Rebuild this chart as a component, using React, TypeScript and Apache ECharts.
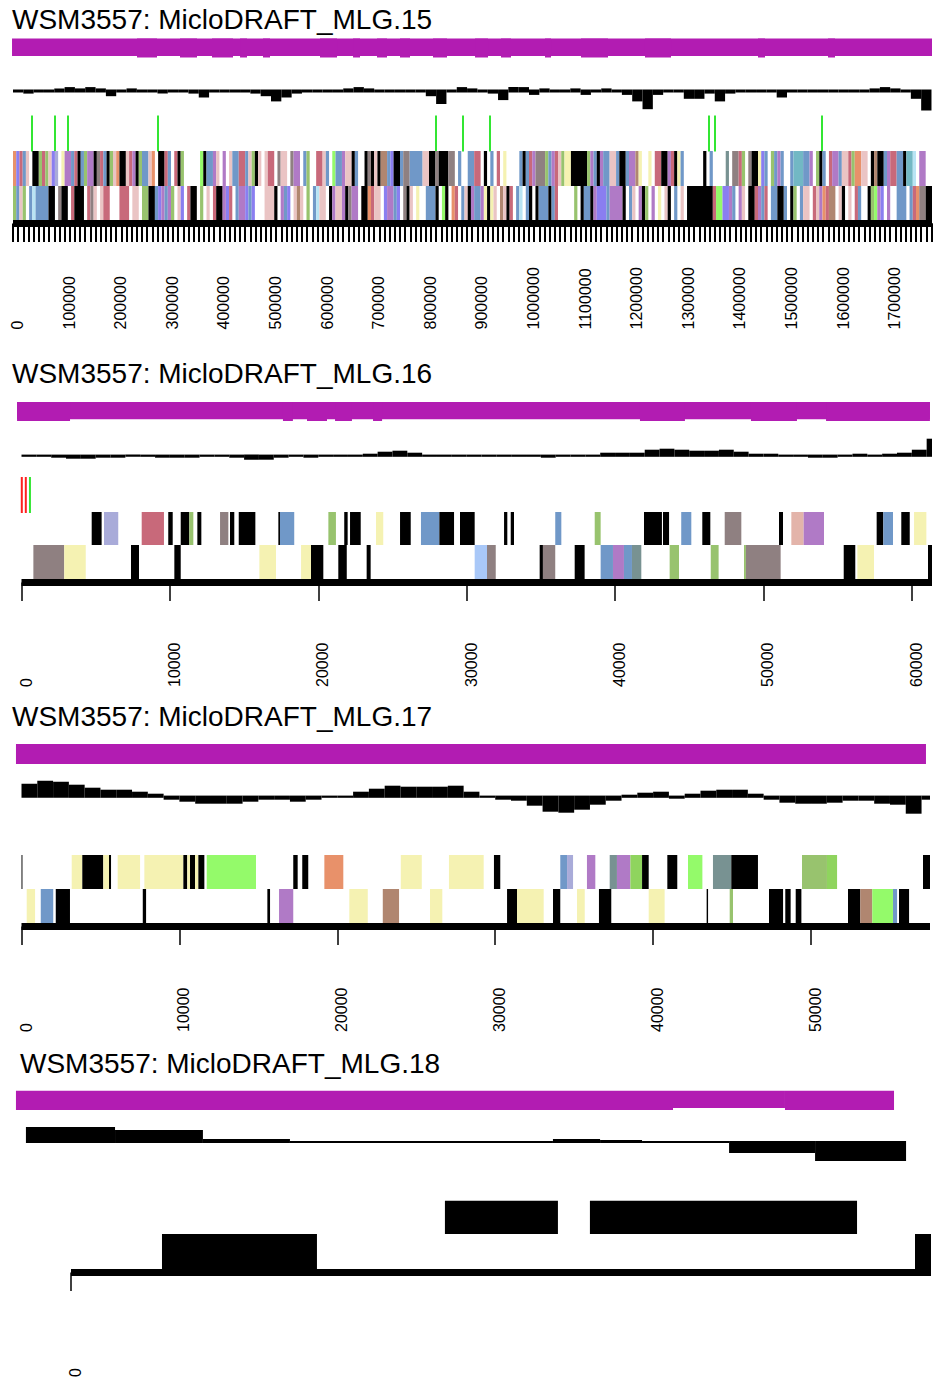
import React, { useEffect, useRef } from "react";
import * as echarts from "echarts";

// ---------------- texts ----------------
const TITLES = [
  "WSM3557: MicloDRAFT_MLG.15",
  "WSM3557: MicloDRAFT_MLG.16",
  "WSM3557: MicloDRAFT_MLG.17",
  "WSM3557: MicloDRAFT_MLG.18",
];

// ---------------- scaffold lengths (bp) ----------------
const LENGTHS = [1781000, 61360, 57535, 5000];

// ---------------- tick labels ----------------
const LABELS_15 = [0, 100000, 200000, 300000, 400000, 500000, 600000, 700000, 800000, 900000, 1000000, 1100000, 1200000, 1300000, 1400000, 1500000, 1600000, 1700000];
const LABELS_16 = [0, 10000, 20000, 30000, 40000, 50000, 60000];
const LABELS_17 = [0, 10000, 20000, 30000, 40000, 50000];
const LABELS_18 = [0];

// ---------------- functional class colours ----------------
const CLASS_COLORS: Record<string, string> = {
  K: "#000000",
  O: "#e8916a",
  B: "#7098c8",
  L: "#a9c8f8",
  V: "#a9abd9",
  P: "#eac4c4",
  R: "#c8697a",
  M: "#8f8081",
  N: "#b08670",
  G: "#98c36e",
  E: "#94fa6a",
  Y: "#f5f2b2",
  U: "#b07ac6",
  I: "#8a7ef0",
  T: "#72b8c4",
  Q: "#789292",
  C: "#b8e4f4",
  S: "#e3b4aa",
  H: "#8fd45e",
};
const CLASS_KEYS = Object.keys(CLASS_COLORS);

// ---------------- MLG.15 ----------------
const GENE_BIN_15 = 6250; // bp per character
const GENES_15_UPPER = [
  "OIRBPWKKGRGPIVWY", "UUBRKBGUUKMRBKGP", "OKKPRUKGBBPOWKKR", "BWRKGWWWWWEKBBUP",
  "WUWPBBRRBPGKPWPR", "RWMPPWMUUWBGWWRR", "PBWEBBUPPKBWWKMK", "PKNNBIKKBMMBBBBP",
  "PKKMKKKMMWBWWBBR", "RWKWBWRWYWWWWBKB", "RUMMMGBURPGYYKKK", "KKGUBKUBBPPBKKBU",
  "UNYWWYWRRKKURKYB", "WWWWWWKWBWWWWQWM", "MRGWMKKYIBWGBUBW", "WBTTTBBUWGKBWRUU",
  "BPPRGOOPPWKNKKBU", "RRBBKTTCWUUWW",
].join("");
const GENES_15_LOWER = [
  "GBPGWBCBBBBKKWMK", "KWRKKKWRMPWPRRWW", "WRRRWPPWGGKKBIUB", "UGWPIWRKKWGWPWRK",
  "KUIRWBUUIBIWWWPP", "PKWUBIWPNPWGWBCP", "PWKUPPUKMUUWKKOR", "PPWIUUBIWMKPWYWW",
  "BBBKWEKWORWBPKUB", "BUYKYPWNPKRWBCWB", "KWKBBBKBRWWWWWGW", "KBBKUIIIBUUUUKWB",
  "PWUKGWUWYWPKWBWP", "WKKKKKKKKREEIIUB", "WUPWKKRUBRWBBKKB", "WKGWBPPWRPUORNNW",
  "PKWPWRBWWKGEUIWU", "WWBBBWBROMMKK",
].join("");
const RNA_15 = [
  [36800, "E"], [81400, "E"], [106600, "E"], [281000, "E"], [819800, "E"],
  [872100, "E"], [924400, "E"], [1348800, "E"], [1360500, "E"], [1567800, "E"],
];
const SKEW_BIN_15 = 20000;
const SKEW_15 = [
  -1, -2, -1, 1, 2, 3, 2, 3, 2, -4,
  1, 2, 0, -1, -2, -1, 1, -2, -5, 1,
  0, 0, 1, -2, -4, -8, -5, -2, 1, 1,
  0, 1, 2, 3, 2, 1, 1, 0, 1, 1,
  -4, -10, 1, 3, 2, 0, -2, -7, 3, 3,
  -3, 2, 1, 1, 2, -3, 1, 2, 1, -3,
  -8, -14, -3, 0, 1, -6, -6, -2, -8, -2,
  1, 1, 1, 0, -5, 1, 1, 1, 0, 1,
  1, 1, -1, 2, 3, 2, 0, -6, -15,
];
const COVER_15 = [
  [-1900, 1781000, 17.5],
  [240300, 279100, 19], [323600, 356600, 19], [385700, 426400, 19], [440000, 453500, 19],
  [484500, 498100, 19], [595000, 628000, 19], [659000, 672500, 19], [705400, 724800, 19],
  [750000, 769400, 19], [814000, 841100, 19], [895400, 920600, 19], [945700, 965100, 19],
  [1031000, 1042700, 19], [1100800, 1153100, 19], [1224800, 1275200, 19], [1443800, 1457400, 19],
  [1579500, 1593000, 19],
];

// ---------------- MLG.16 ----------------
const GENES_16_UPPER = [
  [4730, 5400, "K"], [5560, 6520, "V"], [8100, 9600, "R"], [9890, 10190, "K"], [10730, 11310, "K"],
  [11310, 11580, "G"], [11850, 12120, "K"], [13380, 13940, "M"], [14050, 14340, "K"], [14640, 15760, "K"],
  [17310, 17420, "K"], [17420, 18380, "B"], [20680, 21190, "G"], [21750, 21980, "K"], [22140, 22860, "K"],
  [23890, 24380, "Y"], [25510, 26230, "K"], [26920, 28160, "B"], [28160, 29150, "K"], [29550, 30540, "K"],
  [32520, 32740, "K"], [32970, 33190, "K"], [35970, 36380, "B"], [38630, 39030, "G"], [41950, 43160, "K"],
  [43230, 43640, "K"], [44460, 45140, "B"], [45880, 46420, "K"], [47390, 48510, "M"], [51050, 51320, "K"],
  [51880, 52710, "S"], [52710, 54080, "U"], [57630, 58080, "K"], [58080, 58730, "B"], [59290, 59860, "K"],
  [60150, 60980, "Y"],
];
const GENES_16_LOWER = [
  [800, 2880, "M"], [2880, 4330, "Y"], [7380, 7920, "K"], [10300, 10730, "K"], [16030, 17150, "Y"],
  [18840, 19510, "Y"], [19510, 20340, "K"], [21350, 21920, "K"], [23260, 23530, "K"], [30540, 31370, "L"],
  [31370, 31960, "M"], [34920, 35140, "K"], [35140, 35970, "M"], [37280, 37950, "K"], [39030, 39860, "B"],
  [39860, 40600, "U"], [40600, 41140, "B"], [41140, 41770, "Q"], [43680, 44310, "G"], [46450, 46980, "G"],
  [48690, 48820, "G"], [48820, 51160, "M"], [55410, 56190, "K"], [56330, 57450, "Y"], [61090, 61360, "K"],
];
const RNA_16 = [[20, "X"], [290, "X"], [570, "E"]];
const SKEW_BIN_16 = 1000;
const SKEW_16 = [
  -1, -1, -2, -3, -3, -2, -2, -1, -1, -2,
  -2, -2, -1, -1, -2, -4, -4, -2, -1, -2,
  -1, 0, 1, 2, 4, 5, 3, 1, 0, 0,
  0, 0, 0, 0, 0, -2, 0, 0, 1, 3,
  3, 3, 6, 7, 6, 5, 5, 6, 4, 2,
  2, 1, 0, -2, -2, 1, 2, 1, 2, 3,
  6, 17,
];
const COVER_16 = [
  [-300, 61220, 17.3],
  [-300, 3270, 19], [17620, 18290, 19], [19240, 20590, 19], [21130, 22270, 19], [23690, 24300, 19],
  [41680, 44710, 19], [49160, 52260, 19], [54220, 61220, 19],
];

// ---------------- MLG.17 ----------------
const GENES_17_UPPER = [
  [0, 60, "K"], [3180, 3850, "Y"], [3850, 5180, "K"], [5180, 5540, "Y"], [5540, 5670, "K"],
  [6090, 7510, "Y"], [7780, 10250, "Y"], [10250, 10500, "K"], [10500, 10670, "Y"], [10670, 10990, "K"],
  [10990, 11200, "Y"], [11200, 11580, "K"], [11730, 14850, "E"], [17210, 17490, "K"], [17780, 18160, "K"],
  [19180, 20380, "O"], [24020, 25350, "Y"], [27070, 29270, "Y"], [29920, 30320, "K"], [34120, 34550, "B"],
  [34550, 34930, "V"], [35810, 36340, "U"], [37250, 37710, "Q"], [37710, 38560, "U"], [38560, 39300, "H"],
  [39300, 39720, "K"], [40900, 41530, "K"], [42210, 43120, "E"], [43790, 44950, "Q"], [44950, 46640, "K"],
  [49430, 51010, "G"], [51010, 51650, "H"], [57090, 57535, "K"],
];
const GENES_17_LOWER = [
  [330, 860, "Y"], [1220, 2010, "B"], [2170, 3070, "K"], [7680, 7890, "K"], [15570, 15740, "K"],
  [16310, 17210, "U"], [20760, 21930, "Y"], [22880, 23910, "N"], [25870, 26650, "Y"], [30750, 31380, "K"],
  [31380, 33070, "Y"], [33660, 34120, "K"], [35180, 35670, "Y"], [36570, 37350, "K"], [39720, 40730, "Y"],
  [43390, 43480, "K"], [44850, 45060, "G"], [47340, 48230, "K"], [48370, 48710, "K"], [49030, 49390, "K"],
  [52340, 53120, "K"], [53120, 53880, "N"], [53880, 55190, "E"], [55190, 55450, "B"], [55570, 56210, "K"],
];
const SKEW_BIN_17 = 1000;
const SKEW_17 = [
  13, 16, 15, 12, 9, 7, 7, 5, 3, -3,
  -5, -7, -7, -7, -5, -3, -3, -5, -3, -1,
  1, 5, 8, 11, 10, 10, 10, 11, 5, 0,
  -3, -4, -9, -15, -16, -13, -8, -4, 2, 4,
  5, -2, 3, 6, 7, 7, 3, -3, -6, -7,
  -7, -6, -4, -4, -7, -8, -17, -3,
];
const COVER_17 = [[-350, 57280, 20]];

// ---------------- MLG.18 ----------------
const GENES_18_UPPER = [[2174, 2831, "K"], [3017, 4570, "K"]];
const GENES_18_LOWER = [[529, 1430, "K"], [4907, 5000, "K"]];
const SKEW_18 = [
  [-262, 256, 15], [256, 767, 12], [767, 1273, 3], [1273, 2802, -1], [2802, 3076, 3],
  [3076, 3320, 2], [3320, 3826, 1], [3826, 4326, -11], [4326, 4855, -19],
];
const COVER_18 = [[-320, 3500, 19.3], [3500, 4151, 17.3], [4151, 4785, 19.3]];

// ---------------- styles / layout ----------------
const FONT = "'Liberation Sans', Arial, Helvetica, sans-serif";
const MAGENTA = "#b21cb2";
const MARK_COLORS: Record<string, string> = { E: "#33e633", X: "#ff2020" };

const LAYOUT = [
  { titleLeft: 12, titleTop: 5, left: 13, right: 6, top: 38.5, height: 185, skewBase: 52.5, skewScale: 1.3, skewHalf: 1.5, mark: [77, 113], upper: [112.5, 147.5], lower: [147.5, 181.5], tickWidth: 2, labelMargin: 106 },
  { titleLeft: 12, titleTop: 359, left: 21.5, right: 6, top: 402, height: 180.5, skewBase: 53.7, skewScale: 1, skewHalf: 1.1, mark: [75, 111], upper: [110, 143], lower: [143, 177], tickWidth: 1.5, labelMargin: 104.5 },
  { titleLeft: 12, titleTop: 702, left: 21.5, right: 8, top: 744, height: 182.5, skewBase: 52.7, skewScale: 1, skewHalf: 1.1, mark: [75, 111], upper: [111, 145], lower: [145, 179], tickWidth: 1.5, labelMargin: 105.5 },
  { titleLeft: 20, titleTop: 1049, left: 71, right: 7, top: 1090.7, height: 181.8, skewBase: 51.3, skewScale: 1, skewHalf: 1, mark: [75, 111], upper: [110, 143.3], lower: [143.3, 178.3], tickWidth: 1.5, labelMargin: 104.5 },
];

// ---------------- data preparation ----------------
function stringGenes(str: string, bin: number, row: number, len: number) {
  const out: number[][] = [];
  let i = 0;
  while (i < str.length) {
    const c = str[i];
    let j = i;
    while (j < str.length && str[j] === c) j++;
    if (c !== "W") out.push([i * bin, Math.min(j * bin, len), row, CLASS_KEYS.indexOf(c)]);
    i = j;
  }
  return out;
}
function listGenes(list: any[], row: number) {
  return list.map((g) => [g[0], g[1], row, CLASS_KEYS.indexOf(g[2])]);
}
function binSkew(vals: number[], bin: number, len: number) {
  return vals.map((v, i) => [i * bin, Math.min((i + 1) * bin, len), v]);
}

const PANEL_DATA = [
  {
    genes: [...stringGenes(GENES_15_UPPER, GENE_BIN_15, 0, LENGTHS[0]), ...stringGenes(GENES_15_LOWER, GENE_BIN_15, 1, LENGTHS[0])],
    skew: binSkew(SKEW_15, SKEW_BIN_15, LENGTHS[0]),
    cover: COVER_15,
    marks: RNA_15,
    labels: LABELS_15,
  },
  {
    genes: [...listGenes(GENES_16_UPPER, 0), ...listGenes(GENES_16_LOWER, 1)],
    skew: binSkew(SKEW_16, SKEW_BIN_16, LENGTHS[1]),
    cover: COVER_16,
    marks: RNA_16,
    labels: LABELS_16,
  },
  {
    genes: [...listGenes(GENES_17_UPPER, 0), ...listGenes(GENES_17_LOWER, 1)],
    skew: binSkew(SKEW_17, SKEW_BIN_17, LENGTHS[2]),
    cover: COVER_17,
    marks: [],
    labels: LABELS_17,
  },
  {
    genes: [...listGenes(GENES_18_UPPER, 0), ...listGenes(GENES_18_LOWER, 1)],
    skew: SKEW_18,
    cover: COVER_18,
    marks: [],
    labels: LABELS_18,
  },
];

function rectFrom(api: any, x0: number, x1: number, y0: number, y1: number, fill: string, minW = 0.9) {
  const a = api.coord([x0, y0]);
  const b = api.coord([x1, y1]);
  return {
    type: "rect",
    shape: { x: a[0], y: a[1], width: Math.max(b[0] - a[0], minW), height: b[1] - a[1] },
    style: { fill, stroke: null },
  };
}

function buildOption() {
  const series: any[] = [];
  PANEL_DATA.forEach((pd, i) => {
    const L = LAYOUT[i];
    series.push({
      type: "custom",
      xAxisIndex: i,
      yAxisIndex: i,
      data: pd.cover,
      renderItem: (_p: any, api: any) => rectFrom(api, api.value(0), api.value(1), 0, api.value(2), MAGENTA),
    });
    series.push({
      type: "custom",
      xAxisIndex: i,
      yAxisIndex: i,
      data: pd.skew,
      renderItem: (_p: any, api: any) => {
        const v = api.value(2) * L.skewScale;
        const top = L.skewBase - Math.max(v, L.skewHalf);
        const bot = L.skewBase + Math.max(-v, L.skewHalf);
        return rectFrom(api, api.value(0), api.value(1), top, bot, "#000000");
      },
    });
    if (pd.marks.length) {
      series.push({
        type: "custom",
        xAxisIndex: i,
        yAxisIndex: i,
        data: pd.marks.map((m: any) => [m[0], m[1] === "X" ? 1 : 0]),
        renderItem: (_p: any, api: any) => {
          const a = api.coord([api.value(0), L.mark[0]]);
          const b = api.coord([api.value(0), L.mark[1]]);
          return {
            type: "rect",
            shape: { x: a[0] - 1, y: a[1], width: 2, height: b[1] - a[1] },
            style: { fill: api.value(1) === 1 ? MARK_COLORS.X : MARK_COLORS.E },
          };
        },
      });
    }
    series.push({
      type: "custom",
      xAxisIndex: i,
      yAxisIndex: i,
      data: pd.genes,
      renderItem: (_p: any, api: any) => {
        const row = api.value(2);
        const yr = row === 0 ? L.upper : L.lower;
        return rectFrom(api, api.value(0), api.value(1), yr[0], yr[1], CLASS_COLORS[CLASS_KEYS[api.value(3)]]);
      },
    });
  });

  return {
    animation: false,
    backgroundColor: "#ffffff",
    title: LAYOUT.map((l, i) => ({
      text: TITLES[i],
      left: l.titleLeft,
      top: l.titleTop,
      padding: 0,
      textStyle: { fontSize: 28, fontWeight: "normal", fontFamily: FONT, color: "#000000" },
    })),
    grid: LAYOUT.map((l) => ({ left: l.left, right: l.right, top: l.top, height: l.height, containLabel: false, outerBoundsMode: "none" })),
    xAxis: LAYOUT.map((l, i) => ({
      type: "value",
      gridIndex: i,
      min: 0,
      max: LENGTHS[i],
      interval: i === 0 ? 100000 : 10000,
      axisLine: { show: true, onZero: false, lineStyle: { color: "#000000", width: 7, cap: "butt" } },
      axisTick: i === 0
        ? { show: true, length: 18.5, lineStyle: { color: "#000000", width: l.tickWidth, cap: "butt" } }
        : { show: true, length: 18.5, customValues: PANEL_DATA[i].labels, lineStyle: { color: "#000000", width: l.tickWidth, cap: "butt" } },
      minorTick: i === 0
        ? { show: true, splitNumber: 10, length: 18.5, lineStyle: { color: "#000000", width: l.tickWidth, cap: "butt" } }
        : { show: false },
      splitLine: { show: false },
      axisLabel: {
        customValues: PANEL_DATA[i].labels,
        rotate: 90,
        align: "left",
        verticalAlign: "top",
        lineHeight: 9,
        margin: l.labelMargin,
        fontSize: 16,
        fontFamily: FONT,
        color: "#000000",
        formatter: (v: number) => String(v),
      },
    })),
    yAxis: LAYOUT.map((l, i) => ({ type: "value", gridIndex: i, min: 0, max: l.height, inverse: true, show: false })),
    series,
  };
}

export default function App() {
  const ref = useRef<HTMLDivElement>(null);
  useEffect(() => {
    if (!ref.current) return;
    const chart = echarts.init(ref.current, undefined, { renderer: "svg" });
    chart.setOption(buildOption() as any);
    return () => chart.dispose();
  }, []);
  return (
    <div
      ref={ref}
      style={{ position: "absolute", left: 0, top: 0, width: 938, height: 1383, background: "#ffffff" }}
    />
  );
}
